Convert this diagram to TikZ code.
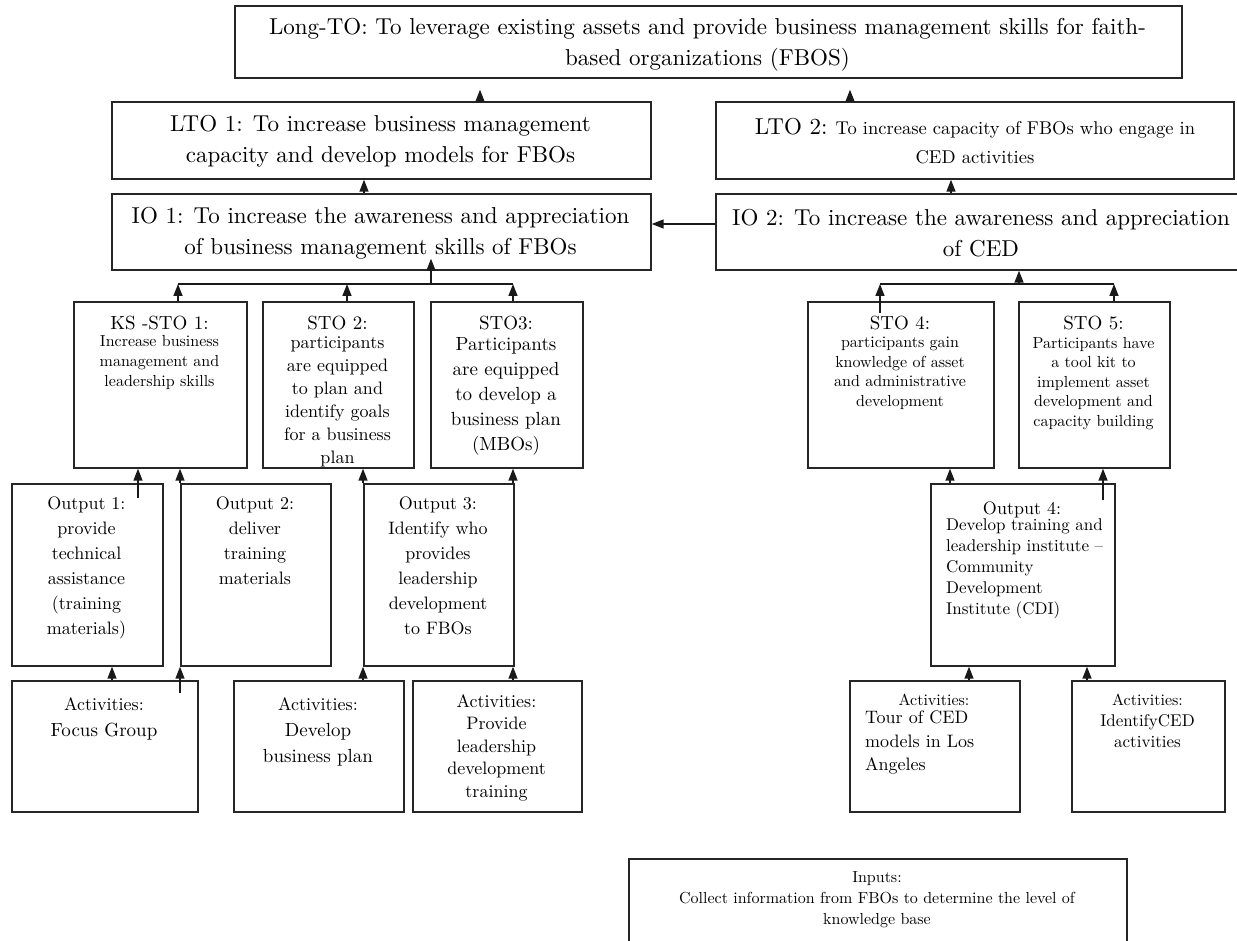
\documentclass[tikz,border=0pt]{standalone}
\usepackage{fontspec}
\setmainfont{lmroman10-regular}[Extension=.otf]
\usetikzlibrary{arrows.meta}

\begin{document}
\begin{tikzpicture}[
  x=1pt, y=-1pt,
  box/.style={draw=black!85, line width=1.7pt, anchor=north west, inner sep=0pt},
  link/.style={black!90, line width=1.5pt},
  arr/.style={link, -{Triangle[width=9pt, length=12pt]}},
  fsz/.style 2 args={font=\fontsize{#1}{#2}\selectfont},
  txt/.style={inner sep=0pt, align=center, text=black},
  big/.style={txt, fsz={23}{31}},
  toptxt/.style={txt, anchor=north},
  lefttxt/.style={txt, anchor=north west, align=left},
]

\useasboundingbox (0,0) rectangle (1237,941);
\clip (0,0) rectangle (1237,941);

% Boxes: name / left / top / width / height
\foreach \n/\x/\y/\w/\h in {
    longto/234/5/947/72,
    lto1/111/101/539/77, lto2/715/101/518/77,
    io1/111/193/539/76, io2/715/193/525/76,
    ks1/73/301/173/166, sto2/262/301/151/166, sto3/430/301/152/166,
    sto4/807/301/186/166, sto5/1018/301/151/166,
    out1/11/483/151/182, out2/180/483/150/182, out3/363/483/150/182,
    out4/930/483/184/182,
    act1/11/680/186/131, act2/233/680/170/131, act3/412/680/169/131,
    act4/849/680/170/131, act5/1071/680/153/131,
    inputs/628/858/498/110} {
  \node[box, minimum width=\w pt, minimum height=\h pt] (\n) at (\x,\y) {};
}

% =========================
% Long-term and intermediate outcomes
% =========================
\node[big] at (707.5,45) {Long-TO: To leverage existing assets and provide business management skills for faith-\\based organizations (FBOS)};
\node[big] at (380.5,141.5) {LTO 1: To increase business management\\capacity and develop models for FBOs};
\node[txt, fsz={18.5}{29}] at (975,141) {{\fontsize{23}{29}\selectfont LTO 2:} To increase capacity of FBOs who engage in\\CED activities};
\node[big] at (380.5,233) {IO 1: To increase the awareness and appreciation\\of business management skills of FBOs};
\node[big] at (981,233) {IO 2: To increase the awareness and appreciation\\of CED};

% =========================
% Short-term outcomes
% =========================
\node[toptxt, fsz={19}{23}] at (159.5,315.5) {KS -STO 1:};
\node[toptxt, fsz={16}{20}] at (159.5,335) {Increase business\\management and\\leadership skills};
\node[toptxt, fsz={19}{23}] at (337.5,315.5) {STO 2:};
\node[toptxt, fsz={18}{23}] at (337.5,336) {participants\\are equipped\\to plan and\\identify goals\\for a business\\plan};
\node[toptxt, fsz={19}{23}] at (506,315.5) {STO3:};
\node[toptxt, fsz={19}{25}] at (506,337.5) {Participants\\are equipped\\to develop a\\business plan\\(MBOs)};
\node[toptxt, fsz={19}{23}] at (900,315.5) {STO 4:};
\node[toptxt, fsz={16}{19.5}] at (900,337) {participants gain\\knowledge of asset\\and administrative\\development};
\node[toptxt, fsz={19}{23}] at (1093.5,315.5) {STO 5:};
\node[toptxt, fsz={16}{19.5}] at (1093.5,337) {Participants have\\a tool kit to\\implement asset\\development and\\capacity building};

% =========================
% Outputs
% =========================
\node[toptxt, fsz={18}{25}] at (86.5,497) {Output 1:\\provide\\technical\\assistance\\(training\\materials)};
\node[toptxt, fsz={18}{25}] at (255,497) {Output 2:\\deliver\\training\\materials};
\node[toptxt, fsz={18}{25}] at (438,497) {Output 3:\\Identify who\\provides\\leadership\\development\\to FBOs};
\node[toptxt, fsz={18}{21}] at (1022,502) {Output 4:};
\node[lefttxt, fsz={17}{21}] at (946,518.5) {Develop training and\\leadership institute --\\Community\\Development\\Institute (CDI)};

% =========================
% Activities and inputs
% =========================
\node[toptxt, fsz={19}{26}] at (104,697) {{\fontsize{18}{26}\selectfont Activities:}\\Focus Group};
\node[toptxt, fsz={19}{26}] at (318,697) {{\fontsize{18}{26}\selectfont Activities:}\\Develop\\business plan};
\node[toptxt, fsz={18}{22.5}] at (496.5,694) {Activities:\\Provide\\leadership\\development\\training};
\node[toptxt, fsz={16}{20}] at (934,693.5) {Activities:};
\node[lefttxt, fsz={18}{23.5}] at (865,711) {Tour of CED\\models in Los\\Angeles};
\node[toptxt, fsz={17}{21}] at (1147.5,693.5) {{\fontsize{16}{21}\selectfont Activities:}\\IdentifyCED\\activities};
\node[toptxt, fsz={16}{21}] at (877,871.5) {Inputs:\\Collect information from FBOs to determine the level of\\knowledge base};

% =========================
% Connectors
% =========================
% vertical links: x / from / to
\foreach \cx/\a/\b in {364/io1/lto1, 951/io2/lto2,
    180/out2/ks1, 363/out3/sto2, 513/out3/sto3, 950/out4/sto4,
    112/act1/out1, 363/act2/out3, 513/act3/out3, 969/act4/out4, 1087/act5/out4} {
  \draw[arr] (\a.north -| \cx,0) -- (\b.south -| \cx,0);
}
\draw[arr, shorten >=11pt] (lto1.north -| 480,0) -- (longto.south -| 480,0);
\draw[arr, shorten >=11pt] (lto2.north -| 850,0) -- (longto.south -| 850,0);
\draw[arr, shorten <=-15pt] (out1.north -| 138,0) -- (ks1.south -| 138,0);
\draw[arr, shorten <=-17pt] (out4.north -| 1103,0) -- (sto5.south -| 1103,0);
\draw[arr, shorten <=-13pt] (act1.north -| 180,0) -- (out2.south -| 180,0);

% IO 2 feeds IO 1
\draw[arr] (io2.west |- 0,224) -- (io1.east |- 0,224);

% branch under IO 1
\coordinate (b1)  at (431,284);
\coordinate (b1a) at (178,284);
\coordinate (b1b) at (347,284);
\coordinate (b1c) at (513,284);
\draw[link] (b1a) -- (b1c);
\draw[arr, shorten >=-12pt] (b1) -- (b1 |- io1.south);
\foreach \c/\n in {b1a/ks1, b1b/sto2, b1c/sto3} {
  \draw[arr] (\c |- \n.north) -- (\c);
}

% branch under IO 2
\coordinate (b2)  at (1019,284);
\coordinate (b2a) at (880,284);
\coordinate (b2b) at (1114,284);
\draw[link] (b2a) -- (b2b);
\draw[arr] (b2) -- (b2 |- io2.south);
\draw[arr, shorten <=-12pt] (b2a |- sto4.north) -- (b2a);
\draw[arr] (b2b |- sto5.north) -- (b2b);

\end{tikzpicture}
\end{document}
